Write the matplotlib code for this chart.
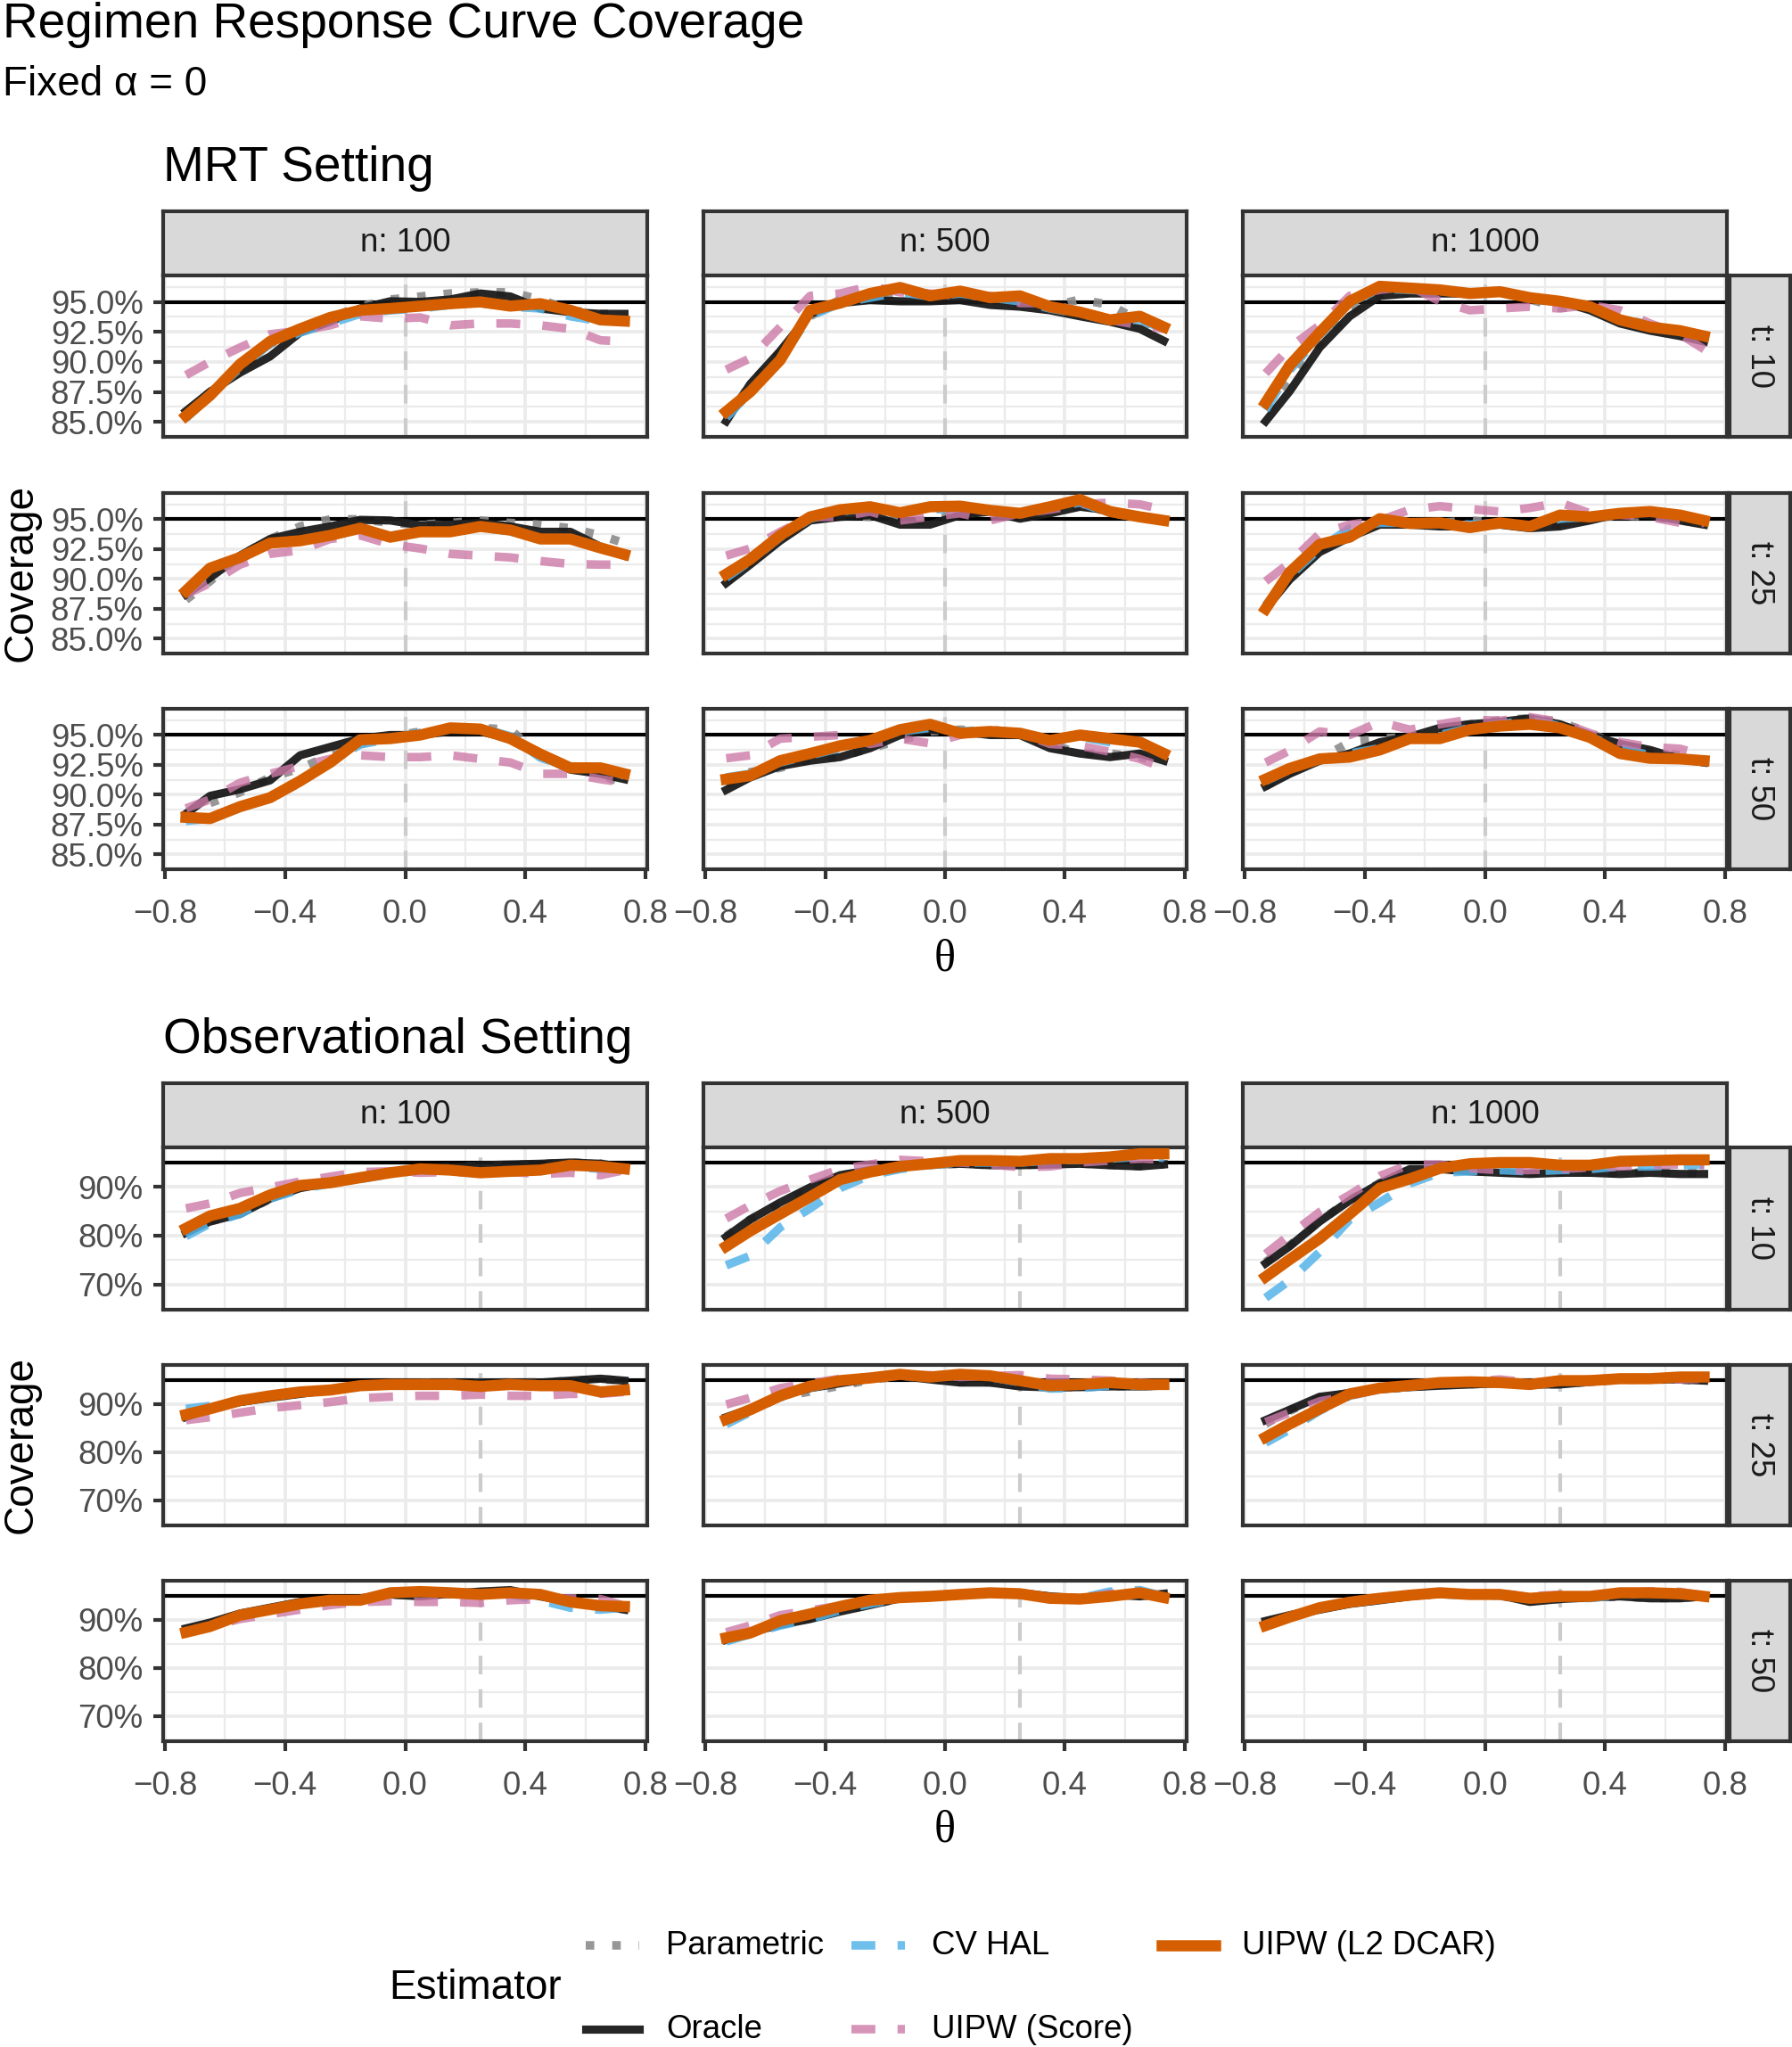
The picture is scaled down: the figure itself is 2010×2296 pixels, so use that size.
import matplotlib
matplotlib.use("Agg")
import matplotlib.pyplot as plt
from matplotlib.lines import Line2D

plt.rcParams['font.family'] = ['Liberation Sans', 'DejaVu Sans']

theta = [-0.73, -0.65, -0.55, -0.45, -0.35, -0.25, -0.15, -0.05,
         0.05, 0.15, 0.25, 0.35, 0.45, 0.55, 0.65, 0.73]

estimators = ["Parametric", "Oracle", "CV HAL", "UIPW (Score)", "UIPW (L2 DCAR)"]
n_levels = [100, 500, 1000]
t_levels = [10, 25, 50]

# ---- MRT setting, coverage in percent ----
mrt_n100_t10 = {
    "Parametric":     [85.7, 87.5, 89.4, 91.5, 92.75, 93.7, 94.6, 95.2, 95.45, 95.7, 95.8, 95.8, 95.2, 94.3, 94.0, 94.0],
    "Oracle":         [85.9, 87.5, 89.1, 90.45, 92.45, 93.35, 94.45, 95.05, 95.0, 95.2, 95.7, 95.45, 94.45, 94.15, 94.0, 94.0],
    "CV HAL":         [85.3, 87.2, 89.5, 91.5, 92.45, 93.2, 94.0, 94.3, 94.45, 94.75, 94.9, 94.6, 94.45, 93.8, 93.4, 93.4],
    "UIPW (Score)":   [88.9, 90.0, 91.2, 92.3, 92.6, 93.05, 93.8, 93.6, 93.7, 93.05, 93.2, 93.2, 93.05, 92.75, 91.8, 91.7],
    "UIPW (L2 DCAR)": [85.5, 87.2, 89.8, 91.7, 92.75, 93.7, 94.3, 94.45, 94.65, 94.85, 95.0, 94.65, 94.85, 94.3, 93.5, 93.4],
}
mrt_n100_t25 = {
    "Parametric":     [88.25, 89.8, 91.95, 93.35, 94.4, 95.0, 95.0, 94.7, 94.55, 94.7, 94.9, 94.7, 94.55, 94.25, 93.65, 93.0],
    "Oracle":         [88.7, 90.1, 91.95, 93.35, 93.95, 94.4, 94.95, 94.9, 94.5, 94.55, 94.7, 94.4, 93.95, 93.95, 92.7, 91.95],
    "CV HAL":         [88.8, 90.6, 91.7, 92.9, 93.3, 93.7, 94.2, 93.6, 93.9, 93.9, 94.3, 94.0, 93.4, 93.4, 92.7, 92.1],
    "UIPW (Score)":   [88.7, 89.65, 91.2, 92.1, 92.4, 93.35, 93.65, 92.9, 92.55, 92.1, 91.95, 91.8, 91.5, 91.25, 91.2, 91.2],
    "UIPW (L2 DCAR)": [89.0, 90.9, 91.8, 93.0, 93.2, 93.65, 94.25, 93.5, 93.95, 93.95, 94.4, 94.1, 93.35, 93.35, 92.6, 92.05],
}
mrt_n100_t50 = {
    "Parametric":     [88.4, 89.3, 90.2, 91.45, 92.2, 93.3, 94.25, 94.85, 95.3, 95.45, 95.6, 95.45, 93.3, 92.25, 91.75, 90.85],
    "Oracle":         [88.4, 89.9, 90.45, 91.2, 93.3, 94.0, 94.7, 95.0, 95.0, 95.3, 95.3, 94.7, 93.3, 92.1, 91.75, 91.3],
    "CV HAL":         [87.8, 88.0, 88.9, 89.7, 91.0, 92.8, 94.2, 94.7, 95.2, 95.6, 95.6, 94.9, 93.1, 92.3, 92.3, 91.6],
    "UIPW (Score)":   [88.85, 89.6, 91.0, 91.75, 92.4, 93.0, 93.3, 93.15, 93.15, 93.3, 93.0, 92.7, 91.75, 91.75, 91.3, 91.0],
    "UIPW (L2 DCAR)": [88.1, 88.0, 89.0, 89.75, 91.15, 92.7, 94.6, 94.7, 95.0, 95.6, 95.5, 94.7, 93.4, 92.25, 92.25, 91.75],
}
mrt_n500_t10 = {
    "Parametric":     [85.2, 88.15, 90.75, 93.8, 95.2, 95.35, 95.7, 95.5, 95.7, 95.2, 94.9, 94.6, 95.2, 94.75, 93.4, 92.75],
    "Oracle":         [85.05, 88.15, 90.9, 94.0, 94.9, 95.15, 95.05, 95.05, 95.15, 94.75, 94.6, 94.3, 93.8, 93.35, 92.75, 91.75],
    "CV HAL":         [85.35, 87.5, 90.3, 93.8, 94.9, 95.35, 95.8, 95.45, 95.7, 95.35, 95.05, 94.45, 94.0, 93.5, 93.5, 92.75],
    "UIPW (Score)":   [89.35, 90.3, 92.9, 95.5, 95.7, 96.3, 95.8, 95.7, 95.5, 95.5, 94.9, 94.9, 94.15, 93.5, 93.05, 92.75],
    "UIPW (L2 DCAR)": [85.85, 87.5, 90.15, 94.3, 94.9, 95.7, 96.2, 95.5, 95.9, 95.35, 95.5, 94.6, 94.15, 93.5, 93.8, 92.9],
}
mrt_n500_t25 = {
    "Parametric":     [89.8, 91.5, 93.35, 95.2, 95.35, 95.2, 94.9, 94.9, 95.5, 95.8, 95.2, 95.65, 96.1, 95.65, 95.2, 94.9],
    "Oracle":         [89.65, 91.2, 93.2, 94.9, 95.2, 95.35, 94.55, 94.55, 95.35, 95.65, 95.05, 95.5, 96.05, 95.75, 95.2, 94.95],
    "CV HAL":         [90.1, 91.5, 93.5, 95.05, 95.65, 95.95, 95.5, 95.8, 95.95, 95.65, 95.5, 95.95, 96.4, 95.5, 95.2, 94.9],
    "UIPW (Score)":   [91.95, 92.55, 93.95, 95.2, 95.2, 95.65, 94.9, 95.2, 95.5, 94.9, 95.5, 95.8, 96.25, 96.4, 96.25, 95.8],
    "UIPW (L2 DCAR)": [90.4, 91.65, 93.65, 95.2, 95.8, 96.05, 95.55, 96.05, 96.1, 95.75, 95.5, 96.05, 96.65, 95.65, 95.2, 94.9],
}
mrt_n500_t50 = {
    "Parametric":     [90.85, 91.9, 92.25, 93.0, 93.15, 93.9, 94.55, 95.3, 95.45, 95.3, 95.0, 94.25, 93.45, 93.45, 93.15, 92.7],
    "Oracle":         [90.4, 91.45, 92.4, 92.85, 93.15, 93.9, 95.0, 95.45, 95.3, 95.0, 95.0, 93.9, 93.45, 93.15, 93.45, 92.85],
    "CV HAL":         [91.45, 91.75, 92.7, 93.3, 93.9, 94.55, 95.3, 95.6, 95.3, 95.45, 95.15, 94.4, 94.85, 94.4, 94.55, 93.3],
    "UIPW (Score)":   [93.05, 93.3, 94.7, 94.85, 95.0, 94.25, 94.7, 94.3, 95.0, 95.45, 95.15, 94.25, 94.1, 93.6, 93.0, 92.25],
    "UIPW (L2 DCAR)": [91.3, 91.6, 92.85, 93.45, 94.1, 94.55, 95.45, 95.9, 95.15, 95.3, 95.15, 94.55, 95.0, 94.7, 94.4, 93.45],
}
mrt_n1000_t10 = {
    "Parametric":     [86.0, 88.5, 91.5, 94.2, 95.6, 95.8, 95.8, 95.7, 95.8, 95.2, 94.5, 94.6, 93.6, 93.1, 92.3, 92.0],
    "Oracle":         [85.05, 87.55, 91.2, 93.8, 95.5, 95.7, 95.7, 95.7, 95.9, 95.2, 95.05, 94.3, 93.2, 92.6, 92.15, 91.7],
    "CV HAL":         [86.0, 89.3, 92.2, 94.9, 96.1, 96.0, 95.9, 95.7, 95.8, 95.35, 95.05, 94.6, 93.6, 93.0, 92.6, 92.1],
    "UIPW (Score)":   [89.05, 91.2, 93.05, 95.5, 96.0, 96.3, 95.05, 94.3, 94.45, 94.6, 94.45, 94.75, 94.3, 93.2, 92.3, 91.05],
    "UIPW (L2 DCAR)": [86.6, 89.7, 92.45, 95.05, 96.3, 96.15, 96.0, 95.7, 95.85, 95.35, 95.05, 94.6, 93.5, 92.9, 92.6, 92.15],
}
mrt_n1000_t25 = {
    "Parametric":     [87.65, 90.1, 92.4, 93.95, 94.7, 94.55, 94.7, 94.9, 94.7, 94.4, 94.55, 95.05, 95.35, 95.2, 94.9, 94.7],
    "Oracle":         [87.5, 89.95, 92.25, 93.5, 94.55, 94.55, 94.4, 94.4, 94.55, 94.25, 94.4, 94.9, 95.5, 95.35, 94.9, 94.55],
    "CV HAL":         [87.8, 90.25, 92.55, 94.25, 94.7, 94.7, 94.7, 94.55, 94.7, 94.4, 95.05, 95.2, 95.5, 95.65, 95.2, 94.9],
    "UIPW (Score)":   [89.8, 91.35, 93.8, 94.55, 94.9, 95.8, 96.1, 95.85, 95.65, 95.95, 96.4, 95.5, 95.35, 95.2, 94.7, 94.7],
    "UIPW (L2 DCAR)": [87.5, 90.55, 92.9, 93.5, 95.05, 94.65, 94.7, 94.3, 94.7, 94.4, 95.35, 95.2, 95.5, 95.65, 95.35, 94.9],
}
mrt_n1000_t50 = {
    "Parametric":     [90.7, 91.9, 93.0, 94.4, 94.7, 94.85, 95.45, 95.9, 96.25, 96.4, 96.1, 95.15, 94.1, 93.6, 93.3, 92.7],
    "Oracle":         [90.7, 91.75, 92.85, 93.45, 94.4, 94.85, 95.6, 95.9, 96.1, 96.4, 95.9, 95.0, 94.25, 93.75, 93.0, 92.7],
    "CV HAL":         [91.15, 92.1, 93.0, 93.45, 93.9, 94.7, 95.0, 95.6, 95.9, 96.25, 95.75, 94.85, 93.9, 93.3, 93.0, 92.7],
    "UIPW (Score)":   [92.7, 93.7, 95.3, 95.0, 96.1, 95.45, 95.9, 96.3, 96.2, 96.5, 96.1, 95.15, 94.4, 94.0, 93.85, 93.3],
    "UIPW (L2 DCAR)": [91.3, 92.2, 93.0, 93.15, 93.75, 94.7, 94.7, 95.45, 95.75, 95.9, 95.6, 94.8, 93.45, 93.05, 93.0, 92.85],
}

# ---- Observational setting, coverage in percent ----
obs_n100_t10 = {
    "Parametric":     [80.7, 82.9, 84.5, 87.5, 89.8, 90.9, 91.9, 92.9, 93.8, 94.0, 94.3, 94.5, 94.7, 95.0, 94.8, 94.0],
    "Oracle":         [80.55, 82.9, 84.45, 87.6, 89.75, 90.85, 91.9, 92.9, 93.9, 94.0, 94.45, 94.6, 94.75, 95.0, 94.75, 93.95],
    "CV HAL":         [79.9, 82.5, 84.45, 87.6, 89.5, 90.7, 91.6, 92.65, 93.4, 93.4, 92.65, 93.05, 93.3, 94.2, 93.7, 93.7],
    "UIPW (Score)":   [85.6, 86.6, 88.75, 89.9, 91.1, 92.1, 93.05, 93.2, 92.9, 93.05, 92.9, 93.05, 92.65, 92.9, 92.4, 93.45],
    "UIPW (L2 DCAR)": [81.5, 84.05, 85.6, 88.35, 90.3, 90.85, 91.9, 92.9, 93.7, 93.45, 92.9, 93.2, 93.45, 94.45, 94.2, 93.7],
}
obs_n100_t25 = {
    "Parametric":     [87.4, 89.1, 90.5, 91.4, 92.2, 92.9, 93.7, 94.2, 94.4, 94.3, 94.4, 94.5, 94.5, 94.8, 95.1, 94.9],
    "Oracle":         [87.3, 89.0, 90.4, 91.3, 92.1, 92.9, 93.8, 94.3, 94.45, 94.3, 94.45, 94.45, 94.45, 94.85, 95.25, 94.85],
    "CV HAL":         [89.0, 89.6, 90.8, 91.6, 92.4, 92.9, 93.6, 94.0, 94.0, 93.9, 93.4, 93.9, 93.7, 93.7, 92.6, 92.9],
    "UIPW (Score)":   [86.65, 87.25, 88.2, 89.15, 89.75, 90.4, 91.2, 91.5, 91.7, 91.7, 91.95, 91.7, 91.7, 92.1, 92.1, 92.5],
    "UIPW (L2 DCAR)": [87.8, 89.0, 90.7, 91.7, 92.5, 92.9, 93.8, 94.05, 94.05, 94.05, 93.65, 94.05, 93.8, 93.8, 92.5, 92.9],
}
obs_n100_t50 = {
    "Parametric":     [88.0, 89.2, 91.0, 92.3, 93.5, 94.0, 94.4, 95.2, 95.0, 95.3, 95.7, 95.9, 94.9, 93.8, 93.0, 92.3],
    "Oracle":         [88.2, 89.4, 91.3, 92.5, 93.7, 94.05, 94.45, 95.25, 94.85, 95.4, 95.85, 96.15, 94.85, 93.7, 92.9, 92.1],
    "CV HAL":         [87.4, 88.8, 91.15, 92.25, 93.3, 94.05, 94.3, 95.4, 95.6, 95.4, 95.4, 95.25, 94.05, 92.5, 92.1, 92.5],
    "UIPW (Score)":   [87.6, 88.6, 90.15, 91.15, 92.1, 93.05, 93.7, 93.85, 93.7, 93.7, 93.5, 94.05, 94.3, 94.45, 94.3, 92.9],
    "UIPW (L2 DCAR)": [87.4, 88.6, 90.95, 92.1, 93.3, 94.05, 94.05, 95.6, 95.85, 95.6, 95.25, 95.6, 95.25, 93.7, 92.9, 92.75],
}
obs_n500_t10 = {
    "Parametric":     [79.9, 83.3, 86.6, 89.7, 92.3, 93.4, 94.1, 94.6, 94.7, 94.5, 94.5, 94.6, 94.8, 94.5, 94.3, 94.6],
    "Oracle":         [79.75, 83.3, 86.8, 89.9, 92.4, 93.45, 94.2, 94.6, 94.75, 94.45, 94.45, 94.6, 94.75, 94.45, 94.2, 94.6],
    "CV HAL":         [73.9, 75.85, 81.7, 85.6, 89.75, 92.4, 93.65, 94.45, 95.0, 95.0, 95.0, 95.4, 95.55, 95.8, 96.15, 96.0],
    "UIPW (Score)":   [83.5, 86.2, 89.15, 91.5, 93.65, 94.6, 95.55, 95.25, 95.0, 94.6, 94.05, 94.2, 95.0, 95.4, 95.8, 95.55],
    "UIPW (L2 DCAR)": [77.8, 80.95, 84.45, 87.95, 91.5, 93.05, 94.2, 94.75, 95.4, 95.4, 95.25, 95.8, 95.8, 96.15, 96.8, 96.8],
}
obs_n500_t25 = {
    "Parametric":     [86.9, 88.9, 91.4, 92.6, 93.8, 95.0, 95.8, 95.2, 94.6, 94.5, 93.8, 93.5, 93.5, 93.7, 93.7, 93.8],
    "Oracle":         [87.25, 89.0, 91.7, 93.3, 94.3, 95.25, 95.85, 95.1, 94.45, 94.45, 93.65, 93.45, 93.5, 93.65, 93.65, 93.8],
    "CV HAL":         [85.8, 88.3, 91.5, 93.4, 94.7, 95.35, 96.0, 95.4, 95.9, 95.6, 94.5, 93.2, 93.3, 93.8, 93.8, 94.0],
    "UIPW (Score)":   [89.9, 91.3, 93.3, 94.3, 95.25, 95.6, 96.0, 96.0, 95.6, 95.8, 96.0, 95.25, 95.1, 94.85, 94.45, 94.05],
    "UIPW (L2 DCAR)": [86.8, 88.8, 91.7, 93.7, 94.85, 95.4, 96.15, 95.6, 96.15, 95.85, 94.85, 93.8, 94.05, 94.45, 94.05, 94.05],
}
obs_n500_t50 = {
    "Parametric":     [86.0, 87.3, 89.0, 90.3, 91.8, 93.1, 94.4, 94.8, 95.2, 95.5, 95.5, 94.8, 94.5, 95.2, 94.9, 95.3],
    "Oracle":         [85.85, 87.4, 88.95, 90.15, 91.7, 93.05, 94.45, 94.85, 95.25, 95.6, 95.6, 94.85, 94.45, 95.25, 94.85, 95.4],
    "CV HAL":         [85.5, 87.0, 88.8, 90.15, 91.95, 93.3, 94.45, 95.1, 95.25, 95.4, 95.25, 94.45, 94.45, 95.85, 96.15, 94.85],
    "UIPW (Score)":   [87.4, 88.8, 90.95, 91.95, 92.9, 94.05, 94.85, 94.85, 95.25, 95.4, 95.25, 94.6, 94.45, 95.4, 95.6, 94.85],
    "UIPW (L2 DCAR)": [86.25, 87.25, 89.8, 91.2, 92.75, 94.05, 94.6, 94.85, 95.25, 95.6, 95.4, 94.45, 94.3, 94.85, 95.6, 94.6],
}
obs_n1000_t10 = {
    "Parametric":     [74.6, 78.0, 83.0, 87.3, 90.8, 93.6, 93.6, 93.3, 93.0, 92.8, 92.9, 93.0, 92.8, 93.0, 92.9, 92.8],
    "Oracle":         [74.3, 77.8, 82.9, 87.2, 90.7, 93.65, 93.65, 93.2, 92.9, 92.65, 92.9, 92.9, 92.65, 92.9, 92.65, 92.65],
    "CV HAL":         [67.25, 70.8, 76.65, 83.3, 86.8, 90.7, 92.9, 93.2, 93.45, 93.2, 93.45, 93.65, 94.2, 94.2, 94.45, 94.6],
    "UIPW (Score)":   [76.25, 80.15, 84.85, 88.35, 92.25, 94.6, 94.6, 93.8, 93.45, 93.45, 93.65, 94.0, 94.2, 94.45, 94.6, 94.45],
    "UIPW (L2 DCAR)": [71.55, 75.1, 79.4, 84.45, 89.75, 91.65, 93.8, 94.75, 95.0, 95.0, 94.45, 94.45, 95.25, 95.4, 95.55, 95.55],
}
obs_n1000_t25 = {
    "Parametric":     [85.9, 88.6, 91.3, 92.3, 93.1, 93.5, 93.9, 94.1, 94.3, 94.1, 94.1, 94.6, 95.0, 95.1, 95.0, 94.8],
    "Oracle":         [86.65, 88.8, 91.5, 92.25, 93.05, 93.5, 93.8, 94.05, 94.3, 94.05, 94.05, 94.6, 95.1, 95.1, 95.1, 94.85],
    "CV HAL":         [81.95, 84.7, 88.6, 91.7, 93.1, 93.6, 94.2, 94.4, 94.45, 93.9, 94.6, 94.7, 95.1, 95.1, 95.3, 95.4],
    "UIPW (Score)":   [86.25, 88.2, 90.55, 91.7, 93.05, 93.65, 94.45, 94.6, 95.1, 94.45, 94.6, 95.1, 95.4, 95.1, 95.1, 95.25],
    "UIPW (L2 DCAR)": [83.1, 85.85, 89.0, 92.1, 93.3, 93.85, 94.45, 94.6, 94.45, 94.05, 94.85, 94.85, 95.25, 95.25, 95.6, 95.6],
}
obs_n1000_t50 = {
    "Parametric":     [89.6, 90.9, 92.2, 93.4, 94.1, 94.9, 95.3, 95.2, 95.0, 93.9, 94.3, 94.6, 94.8, 94.5, 94.5, 94.8],
    "Oracle":         [89.75, 90.95, 92.1, 93.3, 94.05, 94.85, 95.4, 95.25, 95.1, 93.7, 94.3, 94.6, 94.85, 94.45, 94.45, 94.85],
    "CV HAL":         [88.9, 90.5, 92.4, 93.6, 94.4, 95.0, 95.3, 95.1, 95.0, 94.6, 94.6, 94.5, 95.1, 95.6, 95.5, 94.9],
    "UIPW (Score)":   [89.0, 90.7, 92.7, 93.8, 94.7, 95.2, 95.5, 95.3, 95.4, 94.9, 95.2, 94.9, 95.5, 95.9, 95.8, 95.0],
    "UIPW (L2 DCAR)": [88.8, 90.55, 92.5, 93.65, 94.45, 95.1, 95.6, 95.25, 95.25, 94.45, 94.85, 94.85, 95.6, 95.6, 95.4, 94.85],
}

mrt_panels = {
    (10, 100): mrt_n100_t10, (10, 500): mrt_n500_t10, (10, 1000): mrt_n1000_t10,
    (25, 100): mrt_n100_t25, (25, 500): mrt_n500_t25, (25, 1000): mrt_n1000_t25,
    (50, 100): mrt_n100_t50, (50, 500): mrt_n500_t50, (50, 1000): mrt_n1000_t50,
}
obs_panels = {
    (10, 100): obs_n100_t10, (10, 500): obs_n500_t10, (10, 1000): obs_n1000_t10,
    (25, 100): obs_n100_t25, (25, 500): obs_n500_t25, (25, 1000): obs_n1000_t25,
    (50, 100): obs_n100_t50, (50, 500): obs_n500_t50, (50, 1000): obs_n1000_t50,
}

styles = {
    "Parametric":     dict(color="#8C8C8C", lw=2.3, ls=(0, (1, 2.1)), alpha=0.9, dash_capstyle="butt"),
    "Oracle":         dict(color="#1A1A1A", lw=2.2, ls="-", alpha=0.95, solid_joinstyle="round"),
    "CV HAL":         dict(color="#56B4E9", lw=2.3, ls=(0, (2.8, 2.6)), alpha=0.85, dash_capstyle="butt"),
    "UIPW (Score)":   dict(color="#CC79A7", lw=2.3, ls=(0, (2.8, 2.6)), alpha=0.8, dash_capstyle="butt"),
    "UIPW (L2 DCAR)": dict(color="#D55E00", lw=3.0, ls="-", alpha=1.0, solid_joinstyle="round"),
}

# ---- layout in pixels ----
W, H = 2010, 2296
fig = plt.figure(figsize=(W / 300, H / 300), dpi=300)

col_x = [(183, 726), (789, 1331), (1394, 1937)]
mrt_rows = [(309, 490), (553, 733), (795, 975)]
obs_rows = [(1287, 1469), (1531, 1711), (1773, 1953)]
rstrip_x = (1940, 2008)


def frac(x0, y0, x1, y1):
    return [x0 / W, 1 - y1 / H, (x1 - x0) / W, (y1 - y0) / H]


def ftext(x, y, s, **kw):
    fig.text(x / W, 1 - y / H, s, **kw)


def strip(x0, y0, x1, y1, label, rot=0):
    sax = fig.add_axes(frac(x0, y0, x1, y1))
    sax.set_facecolor("#D9D9D9")
    sax.set_xticks([])
    sax.set_yticks([])
    for sp in sax.spines.values():
        sp.set_color("#333333")
        sp.set_linewidth(1.0)
    sax.text(0.5, 0.5, label, transform=sax.transAxes, ha="center", va="center",
             fontsize=8.8, color="#1A1A1A", rotation=rot)


def draw_block(panels, rows, strip_top, ylim, yticks, yminor, yfmt, vline):
    for j, n in enumerate(n_levels):
        strip(col_x[j][0], strip_top, col_x[j][1], rows[0][0], f"n: {n}")
    for i, t in enumerate(t_levels):
        strip(rstrip_x[0], rows[i][0], rstrip_x[1], rows[i][1], f"t: {t}", rot=-90)
        for j, n in enumerate(n_levels):
            ax = fig.add_axes(frac(col_x[j][0], rows[i][0], col_x[j][1], rows[i][1]))
            ax.set_xlim(-0.806, 0.806)
            ax.set_ylim(*ylim)
            ax.set_xticks([-0.8, -0.4, 0.0, 0.4, 0.8])
            ax.set_xticks([-0.6, -0.2, 0.2, 0.6], minor=True)
            ax.set_yticks(yticks)
            ax.set_yticks(yminor, minor=True)
            ax.set_axisbelow(True)
            ax.grid(which="major", color="#EBEBEB", lw=0.9)
            ax.grid(which="minor", color="#EBEBEB", lw=0.55)
            for sp in ax.spines.values():
                sp.set_color("#333333")
                sp.set_linewidth(1.0)
            ax.tick_params(which="minor", length=0)
            ax.tick_params(which="major", length=2.75, width=1.0, color="#333333",
                           labelsize=8.8, labelcolor="#4D4D4D", pad=2.6)
            ax.tick_params(axis="x", which="major", pad=5.2)
            if j == 0:
                ax.set_yticklabels([yfmt.format(v) for v in yticks])
            else:
                ax.tick_params(axis="y", which="major", length=0, labelleft=False)
            if i == len(t_levels) - 1:
                ax.set_xticklabels(["−0.8", "−0.4", "0.0", "0.4", "0.8"])
            else:
                ax.tick_params(axis="x", which="major", length=0, labelbottom=False)

            ax.axvline(vline, color="#CCCCCC", lw=1.0, ls=(0, (5, 4)), zorder=1.2)
            ax.axhline(95, color="black", lw=1.0, zorder=1.5)
            data = panels[(t, n)]
            for k, est in enumerate(estimators):
                ax.plot(theta, data[est], zorder=2 + k, **styles[est])


draw_block(mrt_panels, mrt_rows, 237, (84.1, 97.2),
           [85, 87.5, 90, 92.5, 95], [83.75, 86.25, 88.75, 91.25, 93.75, 96.25],
           "{:.1f}%", 0.0)
draw_block(obs_panels, obs_rows, 1215, (64.8, 98.1),
           [70, 80, 90], [65, 75, 85, 95], "{:.0f}%", 0.25)

# ---- titles and axis titles ----
ftext(3, 42, "Regimen Response Curve Coverage", fontsize=13.2, color="black", va="baseline")
ftext(3, 107, "Fixed α = 0", fontsize=11, color="black", va="baseline")
ftext(183, 203, "MRT Setting", fontsize=13.2, color="black", va="baseline")
ftext(183, 1181, "Observational Setting", fontsize=13.2, color="black", va="baseline")
ftext(1060, 1076, "θ", fontsize=12, ha="center", va="center", family="Liberation Serif")
ftext(1060, 2053, "θ", fontsize=12, ha="center", va="center", family="Liberation Serif")
ftext(24, 642, "Coverage", fontsize=11, rotation=90, ha="center", va="center")
ftext(24, 1620, "Coverage", fontsize=11, rotation=90, ha="center", va="center")

# ---- legend (drawn in a pixel-space overlay) ----
lax = fig.add_axes([0, 0, 1, 1])
lax.set_xlim(0, W)
lax.set_ylim(H, 0)
lax.axis("off")
lax.patch.set_alpha(0)
ftext(436, 2230, "Estimator", fontsize=11, va="center")
legend_slots = {
    "Parametric": (657, 2182), "Oracle": (657, 2276),
    "CV HAL": (955, 2182), "UIPW (Score)": (955, 2276),
    "UIPW (L2 DCAR)": (1303, 2182),
}
for est, (kx, ky) in legend_slots.items():
    st = dict(styles[est])
    lax.add_line(Line2D([kx, kx + 60], [ky, ky], **st))
    ftext(kx + 90, ky, est, fontsize=8.8, va="center", color="black")

fig.savefig("out.png", dpi=300)
